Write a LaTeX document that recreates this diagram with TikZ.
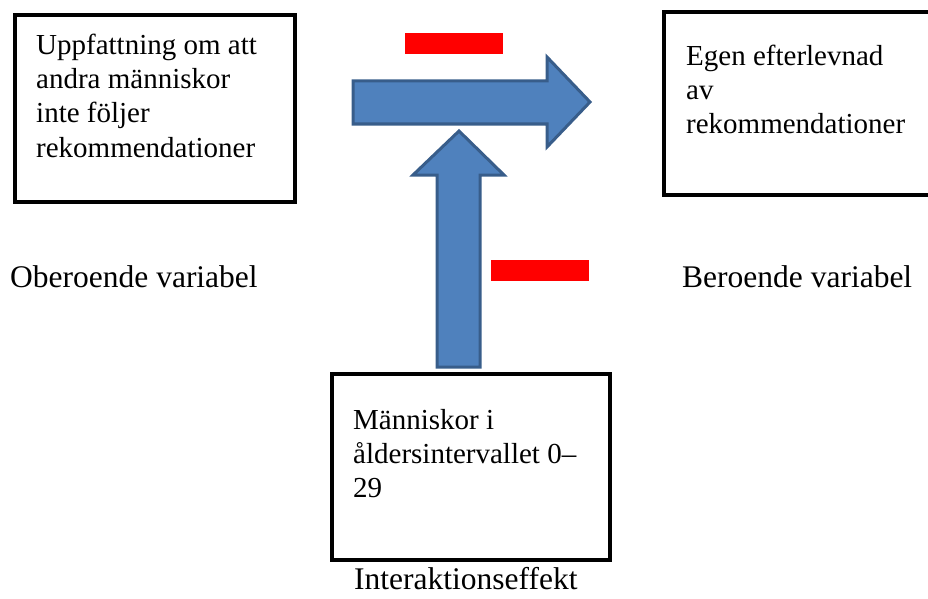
\documentclass[tikz,border=0pt]{standalone}
\usepackage{fontspec}
\setmainfont{Liberation Serif}
\usetikzlibrary{calc}
\definecolor{arrowfill}{HTML}{4F81BD}
\definecolor{arrowline}{HTML}{385D8A}
\tikzstyle{box} = [rectangle, draw, line width=4pt, anchor=north west, inner sep=0pt]
\tikzstyle{boxtext} = [anchor=base west, align=left, inner sep=0pt, font=\fontsize{29}{34}\selectfont]
\tikzstyle{caption} = [anchor=base west, inner sep=0pt, font=\fontsize{31.5}{36}\selectfont]
\tikzstyle{minus} = [rectangle, fill=red, minimum width=98pt, minimum height=21pt, inner sep=0pt, anchor=north west]
\tikzstyle{blockarrow} = [fill=arrowfill, draw=arrowline, line width=3pt, line join=miter]

\begin{document}
\begin{tikzpicture}[x=1pt, y=-1pt]
    \useasboundingbox (0,0) rectangle (928,599);

    % boxes
    \node[box, minimum width=280pt, minimum height=187pt] (indep) at (13,13) {};
    \node[box, minimum width=270pt, minimum height=183pt] (dep) at (662,10) {};
    \node[box, minimum width=278pt, minimum height=186pt] (moder) at (330,372) {};

    % base = last line
    \node[boxtext] (indeptext) at ($(indep.north west)+(23,144)$) {Uppfattning om att\\andra människor\\inte följer\\rekommendationer};
    \node[boxtext] (deptext) at ($(dep.north west)+(24,123)$) {Egen efterlevnad\\av\\rekommendationer};
    \node[boxtext] (modertext) at ($(moder.north west)+(23,125)$) {Människor i\\åldersintervallet 0–\\29};

    % captions
    \node[caption] (indepcap) at (10,287) {Oberoende variabel};
    \node[caption] (depcap) at (682,287) {Beroende variabel};
    \node[caption] (modercap) at (354,589) {Interaktionseffekt};

    % block arrows
    \draw[blockarrow] (353,81) -- (547,81) -- (547,57) -- (590,102) -- (547,147) -- (547,124) -- (353,124) -- cycle;
    \draw[blockarrow] (437,367) -- (437,175) -- (413,175) -- (459,131) -- (504,175) -- (480,175) -- (480,367) -- cycle;

    % minus signs
    \node[minus] (minus1) at (405,33) {};
    \node[minus] (minus2) at (491,260) {};
\end{tikzpicture}
\end{document}
